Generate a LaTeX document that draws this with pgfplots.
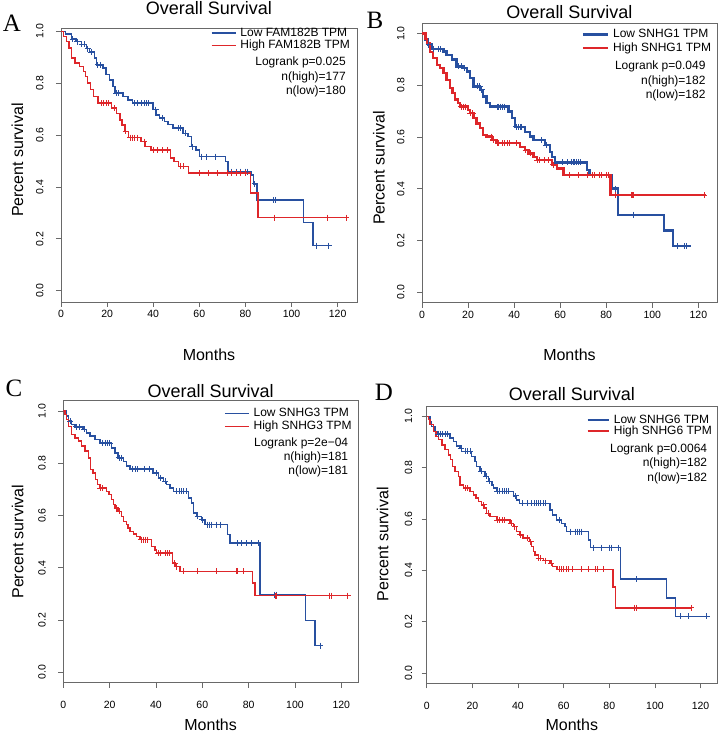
\documentclass[border=0pt]{standalone}
\usepackage{fontspec}
\setmainfont{Liberation Sans}
\newfontfamily\lettfont{Liberation Serif}
\usepackage{pgfplots}
\pgfplotsset{compat=1.18}

\definecolor{kmblue}{RGB}{40,80,160}
\definecolor{kmred}{RGB}{222,38,42}
\definecolor{boxgray}{RGB}{105,105,105}

\newcommand{\legfont}{\fontsize{12}{14}\selectfont}

\tikzset{
  lowc/.style={color=kmblue, line width=1.5pt},
  highc/.style={color=kmred, line width=1.5pt},
  lowb/.style={color=kmblue, line width=2.3pt},
  highb/.style={color=kmred, line width=2.3pt},
}

\pgfplotsset{
  kmbase/.style={
    scale only axis, xmin=0, clip=true,
    axis line style={boxgray, line width=0.8pt},
    xtick={0,20,40,60,80,100,120}, xticklabels={0,20,40,60,80,100,120},
    ytick={0,0.2,0.4,0.6,0.8,1}, yticklabels={0.0,0.2,0.4,0.6,0.8,1.0},
    xtick pos=bottom, ytick pos=left, tick align=outside, major tick length=5pt,
    tick style={boxgray, line width=0.8pt},
    tick label style={font=\fontsize{10.5}{12}\selectfont},
    yticklabel style={rotate=90, anchor=south},
    yticklabel shift=9pt,
    xlabel={Months}, ylabel={Percent survival},
    label style={font=\fontsize{16}{18}\selectfont},
    title={Overall Survival},
    title style={font=\fontsize{18}{20}\selectfont, anchor=center, yshift=-6pt},
    legend cell align=left,
    legend style={draw=none, fill=none, anchor=north west, inner sep=0pt,
      font=\legfont, column sep=4pt, row sep=0pt,
      nodes={inner sep=0pt, text height=9pt, text depth=2.5pt}},
    legend image code/.code={\draw[#1] (0pt,0pt) -- (24pt,0pt);},
  },
  cens/.style={only marks, mark=+, mark size=3pt, line width=0.8pt},
}

\begin{document}
\begin{tikzpicture}
\useasboundingbox (0pt,0pt) rectangle (720pt,733pt);

% ---------------- A: FAM182B
\begin{axis}[kmbase, at={(61pt,431pt)}, anchor=south west,
  width=296pt, height=274pt, xmax=128.4, ymin=-0.0436, ymax=1.013,
  title style={at={(0.5,1.073)}},
  xlabel style={at={(0.5,-0.193)}, anchor=center},
  ylabel style={at={(-0.147,0.518)}, anchor=center},
  legend style={at={(0.506,1.003)}, row sep=0.9pt}]
\addplot[lowc, const plot] coordinates {
 (0,1.0)(2,0.99)(4.5,0.97)(6.6,0.96)(8.8,0.95)(11,0.933)(12.4,0.92)(14.6,0.897)
 (15.5,0.871)(18.2,0.858)(19.6,0.833)(21,0.813)(22.5,0.788)(23.5,0.762)(27,0.749)
 (29,0.736)(31,0.723)(40,0.698)(41.3,0.678)(42.7,0.665)(45,0.652)(46.4,0.64)
 (48.5,0.627)(52.9,0.607)(55,0.595)(56.5,0.556)(58.6,0.543)(60,0.517)(71.3,0.498)
 (72.4,0.459)(82.5,0.447)(83.6,0.412)(85,0.35)(105.2,0.263)(109.3,0.174)(117.5,0.174)};
\addlegendentry{Low FAM182B TPM}
\addplot[highc, const plot] coordinates {
 (0,1.0)(1,0.98)(2.3,0.961)(3.5,0.935)(4.5,0.897)(6,0.878)(8,0.865)(9.8,0.846)
 (10.6,0.826)(11.5,0.8)(12.7,0.775)(14.2,0.749)(16,0.723)(21.8,0.704)(24,0.684)
 (25.6,0.659)(26.5,0.639)(27.8,0.614)(29.2,0.59)(34.8,0.575)(36.5,0.556)(39,0.543)
 (47.4,0.511)(49,0.498)(51,0.479)(55.3,0.453)(82.1,0.376)(85.4,0.282)(124,0.282)};
\addlegendentry{High FAM182B TPM}
\addplot[cens, kmblue, forget plot] coordinates {
 (5,0.97)(7,0.96)(9,0.95)(10,0.95)(11.5,0.933)(13,0.92)(16,0.871)(17,0.871)(24,0.762)
 (25,0.762)(32,0.723)(33,0.723)(35,0.723)(36,0.723)(37,0.723)(38,0.723)(41,0.698)
 (44,0.665)(51,0.627)(52,0.627)(54,0.607)(57,0.556)(61,0.517)(63,0.517)(67,0.517)
 (74,0.459)(76,0.459)(78,0.459)(80,0.459)(81,0.459)(84,0.412)(92,0.35)(93,0.35)
 (111,0.174)(116,0.174)};
\addplot[cens, kmred, forget plot] coordinates {
 (17.5,0.723)(18.5,0.723)(19.5,0.723)(20.5,0.723)(23,0.704)(28,0.614)(30,0.59)
 (31,0.59)(32,0.59)(33,0.59)(36,0.575)(40,0.543)(42,0.543)(44,0.543)(46,0.543)
 (52,0.479)(53,0.479)(60,0.453)(64,0.453)(68,0.453)(72,0.453)(74,0.453)(76,0.453)
 (78,0.453)(80,0.453)(92.4,0.282)(115.4,0.282)(123.8,0.282)};
\end{axis}

% ---------------- B: SNHG1
\begin{axis}[kmbase, at={(422pt,430.3pt)}, anchor=south west,
  width=295pt, height=279.4pt, xmax=128.1, ymin=-0.04, ymax=1.04,
  title style={at={(0.5,1.040)}},
  xlabel style={at={(0.5,-0.187)}, anchor=center},
  ylabel style={at={(-0.146,0.482)}, anchor=center},
  legend style={at={(0.541,0.981)}, row sep=2.1pt},
  legend image code/.code={\draw[#1] (0pt,0pt) -- (25pt,0pt);}]
\addplot[lowb, const plot] coordinates {
 (0,1.0)(1.3,0.977)(2.7,0.958)(4.2,0.94)(9.3,0.931)(10.7,0.918)(12.9,0.9)(15,0.873)
 (18,0.867)(19.4,0.854)(20.8,0.828)(22.3,0.796)(25.2,0.783)(26.6,0.757)(28,0.731)
 (29.5,0.718)(37.5,0.699)(39,0.673)(40.4,0.64)(44.7,0.621)(46.9,0.602)(48.4,0.589)
 (53.4,0.569)(55.6,0.543)(56.3,0.524)(57.8,0.502)(71.5,0.472)(72.7,0.453)(82.4,0.401)
 (85,0.30)(105,0.239)(108.9,0.178)(116.8,0.178)};
\addlegendentry{Low SNHG1 TPM}
\addplot[highb, const plot] coordinates {
 (0,1.0)(1.5,0.98)(2.3,0.964)(3.5,0.93)(4.9,0.905)(6.4,0.88)(7.8,0.867)(9.3,0.847)
 (10.7,0.822)(12.2,0.789)(13.2,0.771)(14.2,0.745)(15.5,0.731)(16.5,0.718)(20,0.705)
 (20.8,0.692)(22.3,0.673)(23.7,0.653)(25.2,0.634)(26.6,0.608)(28,0.602)(30.3,0.589)
 (32.4,0.576)(42.6,0.563)(44.7,0.55)(46.2,0.537)(48.4,0.524)(49.8,0.511)(56.3,0.493)
 (58.5,0.479)(61.4,0.453)(81.8,0.375)(123.3,0.375)};
\addlegendentry{High SNHG1 TPM}
\addplot[cens, kmblue, line width=1.1pt, forget plot] coordinates {
 (3,0.958)(5,0.94)(7,0.94)(8,0.94)(16,0.873)(17,0.873)(18.5,0.867)(24,0.796)(25,0.796)
 (26,0.783)(33,0.718)(34,0.718)(35,0.718)(36,0.718)(41,0.64)(42,0.64)(43,0.64)
 (52,0.589)(54,0.569)(61,0.502)(63,0.502)(65,0.502)(66,0.502)(67,0.502)(68,0.502)
 (69,0.502)(84,0.401)(92,0.30)(111,0.178)(114,0.178)(115,0.178)};
\addplot[cens, kmred, line width=1.1pt, forget plot] coordinates {
 (17,0.718)(18,0.718)(19,0.718)(21,0.692)(22,0.692)(30,0.602)(31,0.589)(33,0.576)
 (35,0.576)(36,0.576)(37,0.576)(38,0.576)(41,0.576)(45,0.55)(47,0.537)(50,0.511)
 (51,0.511)(53,0.511)(55,0.511)(57,0.493)(64,0.453)(68,0.453)(72,0.453)(74,0.453)
 (75,0.453)(77,0.453)(78,0.453)(80,0.453)(81,0.453)(84.2,0.375)(91.2,0.375)(92,0.375)
 (122.5,0.375)};
\end{axis}

% ---------------- C: SNHG3
\begin{axis}[kmbase, at={(63.3pt,50.3pt)}, anchor=south west,
  width=294.7pt, height=282pt, xmax=127.2, ymin=-0.04, ymax=1.04,
  xticklabel shift=10pt,
  title style={at={(0.5,1.034)}},
  xlabel style={at={(0.5,-0.150)}, anchor=center},
  ylabel style={at={(-0.155,0.5)}, anchor=center},
  legend style={at={(0.545,0.975)}, row sep=1.5pt}]
\addplot[lowc, const plot] coordinates {
 (0,1.0)(1.4,0.981)(2.2,0.962)(3.6,0.949)(5,0.94)(8.6,0.93)(10,0.917)(11.5,0.904)
 (13.7,0.891)(15.8,0.878)(20.9,0.859)(22.3,0.84)(23.7,0.821)(25.9,0.808)(27.3,0.789)
 (28.8,0.779)(38.8,0.763)(41,0.744)(43.2,0.731)(44.6,0.719)(46,0.706)(47.5,0.693)
 (54,0.668)(55.4,0.648)(56.1,0.61)(57.6,0.597)(59.7,0.584)(61.2,0.565)(70.8,0.527)
 (71.9,0.495)(84.9,0.297)(104.6,0.198)(108.6,0.102)(110.8,0.102)};
\addlegendentry{Low SNHG3 TPM}
\addplot[highc, const plot] coordinates {
 (0,1.0)(0.7,0.987)(1.4,0.968)(2.2,0.942)(3.6,0.91)(5,0.898)(6.5,0.885)(7.9,0.866)
 (9.4,0.847)(10.8,0.821)(11.8,0.776)(12.9,0.763)(14,0.738)(14.7,0.719)(15.8,0.706)
 (18.7,0.693)(19.7,0.68)(20.9,0.661)(21.6,0.642)(22.3,0.629)(23.7,0.616)(25.2,0.597)
 (25.9,0.578)(27.3,0.565)(28,0.552)(28.8,0.54)(30.2,0.529)(31.7,0.52)(33.1,0.508)
 (38.1,0.482)(39.6,0.469)(40.3,0.456)(47.2,0.418)(48.2,0.405)(50.4,0.386)(81.7,0.342)
 (82.7,0.293)(123.7,0.293)};
\addlegendentry{High SNHG3 TPM}
\addplot[cens, kmblue, forget plot] coordinates {
 (3,0.962)(5.5,0.94)(7,0.94)(9,0.93)(17,0.878)(18,0.878)(19,0.878)(20,0.878)(24,0.821)
 (25,0.821)(30,0.779)(31,0.779)(32,0.779)(35,0.779)(37,0.779)(40,0.763)(42,0.744)
 (44,0.731)(49,0.693)(50,0.693)(51,0.693)(52,0.693)(53,0.693)(58,0.597)(60,0.584)
 (62,0.565)(63,0.565)(64,0.565)(66,0.565)(68,0.565)(75,0.495)(77,0.495)(79,0.495)
 (81,0.495)(84,0.495)(91,0.297)(92,0.297)(111,0.102)};
\addplot[cens, kmred, forget plot] coordinates {
 (16,0.706)(17,0.706)(23,0.629)(24,0.616)(33.5,0.508)(34.5,0.508)(35.5,0.508)
 (36.5,0.508)(41,0.456)(42,0.456)(44,0.456)(45,0.456)(46,0.456)(48,0.418)(49,0.405)
 (52,0.386)(58,0.386)(66,0.386)(74.5,0.386)(75.3,0.386)(77.7,0.386)(91.4,0.293)
 (92,0.293)(115,0.293)(115.8,0.293)(122.7,0.293)};
\end{axis}

% ---------------- D: SNHG6
\begin{axis}[kmbase, at={(426.7pt,49.7pt)}, anchor=south west,
  width=290.3pt, height=277.3pt, xmax=127.2, ymin=-0.04, ymax=1.04,
  xticklabel shift=10pt, yticklabel shift=6pt,
  title style={at={(0.5,1.044)}},
  xlabel style={at={(0.5,-0.150)}, anchor=center},
  ylabel style={at={(-0.152,0.502)}, anchor=center},
  legend style={at={(0.551,0.971)}, row sep=-0.5pt},
  legend image code/.code={\draw[#1] (0pt,0pt) -- (21.5pt,0pt);}]
\addplot[lowc, const plot] coordinates {
 (0,1.0)(1.5,0.98)(2.2,0.961)(3.6,0.941)(4.7,0.931)(10.2,0.915)(11.7,0.902)(13.1,0.885)
 (14.6,0.876)(15.3,0.863)(19.7,0.844)(21.2,0.824)(21.9,0.805)(23.4,0.785)(25.5,0.766)
 (27,0.746)(28.5,0.733)(29.2,0.72)(30.7,0.707)(38,0.69)(39.4,0.674)(40.6,0.661)
 (54,0.635)(55.2,0.616)(56.9,0.596)(59.1,0.583)(60.6,0.57)(61.3,0.551)(70.8,0.518)
 (71.8,0.488)(85,0.366)(105.1,0.293)(109.1,0.221)(123,0.221)};
\addlegendentry{Low SNHG6 TPM}
\addplot[highc, const plot] coordinates {
 (0,1.0)(0.7,0.987)(1.5,0.967)(2.9,0.941)(4.1,0.922)(5.1,0.909)(6.6,0.889)(8,0.87)
 (9.5,0.85)(10.5,0.831)(11.4,0.805)(12.4,0.785)(13.9,0.766)(14.6,0.733)(16.1,0.72)
 (19,0.707)(20.4,0.694)(21.6,0.681)(22.6,0.668)(24.1,0.655)(25.1,0.642)(26.3,0.622)
 (27.7,0.609)(30.7,0.596)(36.5,0.583)(38,0.57)(39.4,0.551)(40.9,0.538)(42.3,0.525)
 (45,0.512)(46,0.492)(46.7,0.473)(47.4,0.46)(48.9,0.447)(51.1,0.438)(54,0.427)
 (55.2,0.414)(57,0.404)(81.7,0.336)(82.8,0.254)(116.3,0.254)};
\addlegendentry{High SNHG6 TPM}
\addplot[cens, kmblue, forget plot] coordinates {
 (5,0.931)(6,0.931)(7,0.931)(8,0.931)(9,0.931)(15,0.876)(17,0.863)(18,0.863)(19,0.863)
 (24,0.785)(26,0.766)(27.5,0.746)(31,0.707)(32,0.707)(33,0.707)(34,0.707)(35,0.707)
 (36,0.707)(39,0.69)(42,0.661)(44,0.661)(46,0.661)(47,0.661)(48,0.661)(49,0.661)
 (50,0.661)(51,0.661)(52,0.661)(58,0.596)(63,0.551)(65,0.551)(66,0.551)(67,0.551)
 (68,0.551)(73,0.488)(76.6,0.488)(80,0.488)(81,0.488)(84,0.488)(92,0.366)(111,0.221)
 (114.6,0.221)(122.6,0.221)};
\addplot[cens, kmred, forget plot] coordinates {
 (17,0.72)(18,0.72)(25,0.655)(27,0.622)(31,0.596)(32,0.596)(33,0.596)(34,0.596)
 (37,0.583)(38.5,0.57)(41,0.538)(44,0.525)(45.5,0.512)(49,0.447)(50,0.447)(52,0.438)
 (54.5,0.427)(58,0.404)(59,0.404)(60,0.404)(61,0.404)(62,0.404)(64,0.404)(68,0.404)
 (71,0.404)(74,0.404)(75,0.404)(77.4,0.404)(91.2,0.254)(92,0.254)(116,0.254)};
\end{axis}

% legend statistics
\node[anchor=base east, font=\legfont] at (349.3pt,667pt) {Logrank p=0.025};
\node[anchor=base east, font=\legfont] at (349.3pt,652pt) {n(high)=177};
\node[anchor=base east, font=\legfont] at (349.3pt,638pt) {n(low)=180};
\node[anchor=base east, font=\legfont] at (709pt,663pt) {Logrank p=0.049};
\node[anchor=base east, font=\legfont] at (709pt,648.7pt) {n(high)=182};
\node[anchor=base east, font=\legfont] at (709pt,634.7pt) {n(low)=182};
\node[anchor=base east, font=\legfont] at (351.7pt,286pt) {Logrank p=2e−04};
\node[anchor=base east, font=\legfont] at (351.7pt,272pt) {n(high)=181};
\node[anchor=base east, font=\legfont] at (351.7pt,258.7pt) {n(low)=181};
\node[anchor=base east, font=\legfont] at (710.7pt,280.7pt) {Logrank p=0.0064};
\node[anchor=base east, font=\legfont] at (710.7pt,266.7pt) {n(high)=182};
\node[anchor=base east, font=\legfont] at (710.7pt,251.7pt) {n(low)=182};

% panel letters
\node[font=\lettfont\fontsize{25}{25}\selectfont] at (12pt,709.5pt) {A};
\node[font=\lettfont\fontsize{25}{25}\selectfont] at (375pt,712.5pt) {B};
\node[font=\lettfont\fontsize{25}{25}\selectfont] at (14pt,344.5pt) {C};
\node[font=\lettfont\fontsize{25}{25}\selectfont] at (384pt,340.5pt) {D};
\end{tikzpicture}
\end{document}
